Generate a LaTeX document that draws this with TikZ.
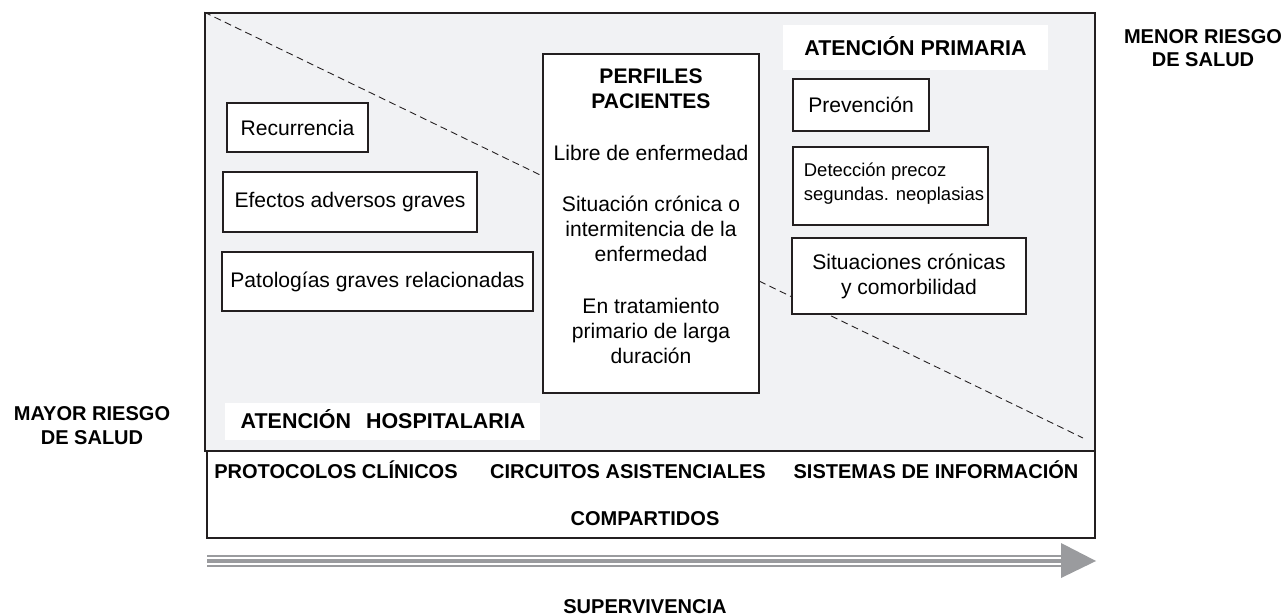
\documentclass[tikz,border=0pt]{standalone}
\usepackage{fontspec}
\setmainfont{Liberation Sans}
\usepackage{xcolor}
\definecolor{panelgray}{RGB}{241,242,244}
\definecolor{arrowgray}{RGB}{154,155,158}
\definecolor{linegray}{RGB}{35,31,32}

\begin{document}
\begin{tikzpicture}[x=0.02cm, y=-0.02cm,
    box/.style={draw=linegray, line width=0.8pt, fill=white, inner sep=0pt,
                font=\fontsize{12}{14.2}\selectfont, align=center},
    smallbox/.style={box, font=\fontsize{10.5}{13.6}\selectfont, align=left},
    tag/.style={fill=white, inner sep=0pt},
    caps/.style={font=\fontsize{11.4}{13.4}\selectfont\bfseries, inner sep=0pt, anchor=base},
    bigcaps/.style={caps, font=\fontsize{12.2}{14}\selectfont\bfseries},
    shaft/.style={draw=arrowgray}]
\useasboundingbox (0,0) rectangle (1287,615);

% panel de atencion
\node[draw=linegray, line width=1pt, fill=panelgray, inner sep=0pt,
      minimum width=17.8cm, minimum height=8.76cm] (panel) at (650,232) {};
\coordinate (dashend) at (1083,438);
\draw[linegray, line width=0.5pt, dash pattern=on 4pt off 2.5pt] (panel.north west) -- (dashend);

% etiquetas blancas
\node[tag, minimum width=5.3cm, minimum height=0.9cm] (primtag) at (915.5,47.5) {};
\node[bigcaps] (primaria) at (915.5,55.5) {ATENCIÓN PRIMARIA};
\node[tag, minimum width=6.3cm, minimum height=0.74cm] (hosptag) at (382.5,421.5) {};
\node[bigcaps] (hospitalaria) at (383,428.5) {ATENCIÓN\hspace{0.7em}HOSPITALARIA};

% cajas izquierda
\node[box, minimum width=2.82cm, minimum height=0.98cm] (recurrencia) at (297.5,127.5) {Recurrencia};
\node[box, minimum width=5.08cm, minimum height=1.2cm] (efectos) at (350,202) {Efectos adversos graves};
\node[box, minimum width=6.22cm, minimum height=1.18cm] (patologias) at (377.5,281.5) {Patologías graves relacionadas};

% perfiles pacientes
\node[box, minimum width=4.32cm, minimum height=6.78cm] (perfiles) at (651,223.5) {};
\node[font=\fontsize{12}{14.2}\selectfont, align=center, inner sep=0pt, anchor=north] (perfilestxt) at (651,68)
    {\textbf{PERFILES}\\\textbf{PACIENTES}\\[15.5pt]
     Libre de enfermedad\\[15pt]
     Situación crónica o\\intermitencia de la\\enfermedad\\[15.3pt]
     En tratamiento\\primario de larga\\duración};

% cajas derecha
\node[box, minimum width=2.72cm, minimum height=1.04cm] (prevencion) at (861,105) {Prevención};
\node[box, minimum width=3.9cm, minimum height=1.56cm] (deteccion) at (890.5,186) {};
\node[font=\fontsize{10.5}{13.6}\selectfont, align=left, inner sep=0pt] (detecciontxt) at (894,184)
    {Detección precoz\\segundas. neoplasias};
\node[box, minimum width=4.68cm, minimum height=1.52cm] (situaciones) at (909,276)
    {Situaciones crónicas\\y comorbilidad};

% riesgo
\node[caps, align=center] (menor) at (1203,67) {MENOR RIESGO\\DE SALUD};
\node[caps, align=center] (mayor) at (92,444) {MAYOR RIESGO\\DE SALUD};

% compartidos
\node[draw=linegray, line width=1pt, fill=white, inner sep=0pt,
      minimum width=17.76cm, minimum height=1.74cm] (compartidos) at (651,494.5) {};
\node[caps] (protocolos) at (336,478) {PROTOCOLOS CLÍNICOS};
\node[caps] (circuitos) at (628,478) {CIRCUITOS ASISTENCIALES};
\node[caps] (sistemas) at (936,478) {SISTEMAS DE INFORMACIÓN};
\node[caps] (comptxt) at (645,525) {COMPARTIDOS};

% flecha supervivencia
\foreach \y/\w in {556.2/0.95pt, 560.8/2.1pt, 565.7/1.1pt}
    \draw[shaft, line width=\w] (207,\y) -- (1062,\y);
\fill[arrowgray] (1061,543) -- (1096,561) -- (1061,578) -- cycle;
\node[caps] (supervivencia) at (645,613) {SUPERVIVENCIA};
\end{tikzpicture}
\end{document}
